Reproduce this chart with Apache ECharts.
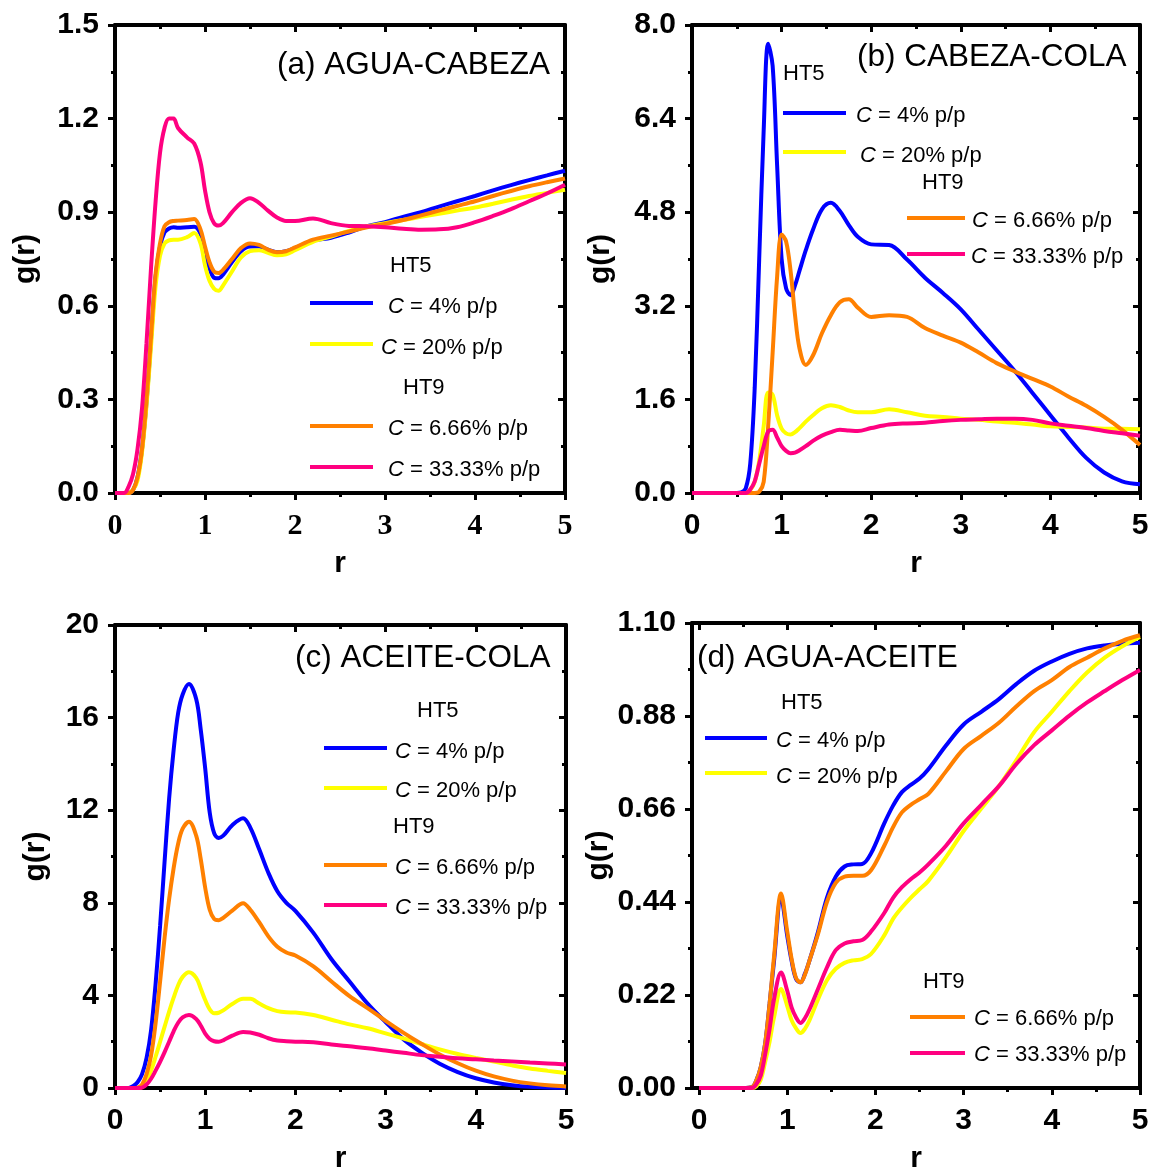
<!DOCTYPE html>
<html><head><meta charset="utf-8">
<script src="https://cdn.jsdelivr.net/npm/echarts@6/dist/echarts.min.js"></script>
<style>html,body{margin:0;padding:0;background:#fff}#c{width:1153px;height:1175px}</style>
</head><body><div id="c"></div>
<script>
// ---------- DATA ----------
const X_TICKS = [0, 1, 2, 3, 4, 5];
const X_MINOR = [0.5, 1.5, 2.5, 3.5, 4.5];
const COLORS = ['#0000ff', '#ffff00', '#ff8000', '#ff0080'];
const LEGEND_LABELS = ['4%', '20%', '6.66%', '33.33%'];

// (a) AGUA-CABEZA
const R_A = [0,0.1,0.15,0.2,0.25,0.3,0.35,0.4,0.45,0.5,0.55,0.6,0.65,0.7,0.8,0.88,0.95,1.0,1.05,1.1,1.15,1.2,1.3,1.4,1.5,1.6,1.7,1.8,1.9,2.0,2.2,2.4,2.6,2.8,3.0,3.2,3.4,3.6,3.8,4.0,4.2,4.4,4.6,4.8,5.0];
const A_BLUE = [0,0,0,0.01,0.05,0.14,0.29,0.49,0.69,0.79,0.835,0.848,0.852,0.85,0.852,0.853,0.83,0.77,0.72,0.69,0.688,0.7,0.74,0.775,0.79,0.79,0.78,0.772,0.775,0.785,0.808,0.818,0.835,0.855,0.868,0.885,0.9,0.918,0.935,0.952,0.97,0.987,1.003,1.018,1.033];
const A_YELLOW = [0,0,0,0.01,0.04,0.13,0.28,0.47,0.66,0.76,0.8,0.81,0.812,0.812,0.82,0.833,0.8,0.73,0.68,0.655,0.648,0.665,0.71,0.755,0.775,0.778,0.77,0.762,0.765,0.778,0.805,0.822,0.84,0.855,0.865,0.875,0.885,0.895,0.905,0.915,0.927,0.94,0.952,0.962,0.972];
const A_ORANGE = [0,0,0,0.01,0.05,0.14,0.3,0.5,0.7,0.8,0.855,0.868,0.872,0.873,0.875,0.878,0.845,0.79,0.74,0.71,0.705,0.715,0.75,0.785,0.8,0.795,0.78,0.772,0.775,0.787,0.812,0.825,0.838,0.852,0.862,0.875,0.89,0.905,0.92,0.935,0.952,0.968,0.983,0.996,1.008];
const A_PINK = [0,0,0.02,0.06,0.14,0.27,0.48,0.72,0.93,1.09,1.17,1.2,1.2,1.17,1.14,1.12,1.06,0.97,0.9,0.865,0.857,0.865,0.9,0.93,0.945,0.93,0.905,0.883,0.872,0.872,0.88,0.865,0.856,0.855,0.852,0.847,0.844,0.845,0.852,0.868,0.888,0.91,0.935,0.96,0.988];

// (b) CABEZA-COLA
const R_B = [0,0.5,0.55,0.6,0.65,0.7,0.75,0.8,0.85,0.9,0.95,1.0,1.05,1.1,1.15,1.2,1.27,1.35,1.45,1.55,1.65,1.75,1.85,2.0,2.2,2.4,2.6,2.8,3.0,3.2,3.4,3.6,3.8,4.0,4.2,4.4,4.6,4.8,5.0];
const B_BLUE = [0,0,0.01,0.08,0.5,1.8,4.0,6.2,7.68,7.3,5.6,4.0,3.5,3.38,3.55,3.8,4.15,4.5,4.85,4.96,4.82,4.58,4.38,4.25,4.24,3.99,3.68,3.42,3.14,2.79,2.44,2.09,1.71,1.33,0.95,0.6,0.35,0.2,0.15];
const B_YELLOW = [0,0,0,0,0.05,0.19,0.55,1.14,1.72,1.68,1.33,1.1,1.02,1.0,1.04,1.11,1.22,1.33,1.45,1.5,1.47,1.41,1.38,1.38,1.43,1.38,1.32,1.3,1.27,1.25,1.22,1.2,1.17,1.14,1.13,1.12,1.1,1.1,1.09];
const B_ORANGE = [0,0,0,0,0,0,0.02,0.19,1.14,2.4,3.7,4.42,4.3,3.8,3.04,2.47,2.19,2.35,2.73,3.04,3.26,3.31,3.17,3.01,3.04,3.01,2.82,2.69,2.57,2.4,2.22,2.08,1.95,1.82,1.65,1.49,1.3,1.08,0.82];
const B_PINK = [0,0,0,0,0.06,0.2,0.5,0.8,1.05,1.08,0.95,0.8,0.72,0.68,0.69,0.73,0.8,0.89,0.98,1.04,1.08,1.07,1.06,1.11,1.17,1.19,1.2,1.23,1.25,1.26,1.27,1.27,1.25,1.19,1.15,1.11,1.06,1.02,0.98];

// (c) ACEITE-COLA
const R_C = [0,0.15,0.2,0.25,0.3,0.35,0.4,0.45,0.5,0.55,0.6,0.65,0.7,0.75,0.82,0.9,0.95,1.0,1.05,1.1,1.15,1.2,1.3,1.42,1.5,1.6,1.7,1.8,1.9,2.0,2.2,2.4,2.6,2.8,3.0,3.2,3.4,3.6,3.8,4.0,4.2,4.4,4.6,4.8,5.0];
const C_BLUE = [0,0,0.08,0.25,0.6,1.3,2.5,4.5,7.0,9.8,12.5,14.6,16.2,17.0,17.45,16.8,15.5,13.8,11.9,11.0,10.8,10.9,11.35,11.65,11.25,10.3,9.3,8.5,8.0,7.65,6.7,5.56,4.6,3.65,2.85,2.1,1.53,1.05,0.69,0.42,0.24,0.12,0.05,0.02,0.01];
const C_YELLOW = [0,0,0,0,0.05,0.3,0.75,1.35,2.0,2.65,3.3,3.9,4.44,4.8,5.0,4.76,4.3,3.8,3.4,3.23,3.25,3.35,3.63,3.85,3.85,3.65,3.45,3.32,3.27,3.26,3.15,2.95,2.75,2.58,2.36,2.14,1.9,1.67,1.47,1.3,1.14,0.98,0.84,0.74,0.65];
const C_ORANGE = [0,0,0,0.02,0.15,0.6,1.4,2.8,4.6,6.5,8.15,9.5,10.55,11.2,11.5,10.9,9.9,8.65,7.7,7.3,7.25,7.35,7.66,7.98,7.7,7.15,6.55,6.1,5.85,5.72,5.25,4.6,3.97,3.45,2.9,2.38,1.9,1.45,1.07,0.75,0.5,0.32,0.2,0.12,0.07];
const C_PINK = [0,0,0,0,0.02,0.15,0.4,0.75,1.13,1.55,2.0,2.45,2.82,3.05,3.15,2.98,2.7,2.35,2.12,2.02,2.0,2.06,2.26,2.42,2.4,2.3,2.15,2.05,2.02,2.0,1.98,1.88,1.8,1.72,1.62,1.52,1.42,1.35,1.28,1.24,1.19,1.15,1.1,1.06,1.02];

// (d) AGUA-ACEITE
const R_D = [0,0.5,0.6,0.65,0.7,0.75,0.8,0.85,0.93,1.0,1.05,1.1,1.15,1.2,1.25,1.35,1.45,1.55,1.65,1.75,1.85,1.95,2.1,2.2,2.3,2.4,2.5,2.6,2.8,3.0,3.2,3.4,3.6,3.8,4.0,4.2,4.4,4.6,4.8,5.0];
const D_BLUE = [0,0,0.002,0.018,0.05,0.106,0.2,0.3,0.45,0.36,0.3,0.258,0.25,0.27,0.3,0.37,0.45,0.5,0.524,0.529,0.53,0.555,0.626,0.668,0.7,0.717,0.732,0.754,0.81,0.86,0.89,0.92,0.956,0.987,1.009,1.027,1.04,1.047,1.051,1.053];
const D_YELLOW = [0,0,0,0.004,0.02,0.062,0.11,0.167,0.234,0.194,0.16,0.141,0.13,0.14,0.159,0.21,0.255,0.282,0.296,0.302,0.305,0.317,0.361,0.4,0.427,0.45,0.47,0.49,0.546,0.608,0.661,0.714,0.776,0.842,0.89,0.939,0.983,1.018,1.045,1.067];
const D_ORANGE = [0,0,0.002,0.018,0.05,0.106,0.2,0.31,0.46,0.37,0.305,0.26,0.25,0.268,0.3,0.365,0.44,0.485,0.5,0.502,0.502,0.515,0.573,0.617,0.652,0.67,0.683,0.696,0.749,0.802,0.833,0.864,0.903,0.939,0.965,0.996,1.018,1.04,1.058,1.071];
const D_PINK = [0,0,0,0.009,0.03,0.08,0.14,0.21,0.273,0.23,0.19,0.167,0.154,0.165,0.185,0.235,0.285,0.326,0.342,0.347,0.35,0.37,0.414,0.45,0.475,0.494,0.51,0.529,0.573,0.626,0.67,0.714,0.767,0.811,0.846,0.881,0.912,0.939,0.965,0.989];

const Y_A = {min:0, max:1.5, interval:0.3, dec:1};
const Y_B = {min:0, max:8, interval:1.6, dec:1};
const Y_C = {min:0, max:20, interval:4, dec:0};
const Y_D = {min:0, max:1.1, interval:0.22, dec:2};

// ---------- LAYOUT ----------
const SANS = 'Liberation Sans, Arial, sans-serif';
const SERIF = 'Liberation Serif, Times New Roman, serif';
const panels = [
  {grid:{left:115, top:25, width:450, height:468}, y:Y_A, r:R_A, vals:[A_BLUE,A_YELLOW,A_ORANGE,A_PINK], xmin:0, xFont:SERIF, nameGap:74},
  {grid:{left:692, top:25, width:448, height:468}, y:Y_B, r:R_B, vals:[B_BLUE,B_YELLOW,B_ORANGE,B_PINK], xmin:0, xFont:SANS, nameGap:76},
  {grid:{left:115, top:625, width:451, height:463}, y:Y_C, r:R_C, vals:[C_BLUE,C_YELLOW,C_ORANGE,C_PINK], xmin:0, xFont:SANS, nameGap:64},
  {grid:{left:692, top:623, width:448, height:468}, y:Y_D, r:R_D, vals:[D_BLUE,D_YELLOW,D_ORANGE,D_PINK], xmin:-0.08, xFont:SANS, nameGap:77}
];

const grids = [], xAxes = [], yAxes = [], series = [];
const LINE = {show:true, onZero:false, lineStyle:{color:'#000', width:4}};
const TICK_OUT = {show:true, inside:false, length:7, lineStyle:{color:'#000', width:3}};
const TICK_IN = {show:true, inside:true, length:7, lineStyle:{color:'#000', width:3}};
const MINOR_OUT = {show:true, splitNumber:2, length:4, lineStyle:{color:'#000', width:3}};
const labelStyle = (font) => ({fontSize:30, fontWeight:'bold', fontFamily:font, color:'#000'});

panels.forEach((p, gi) => {
  grids.push(Object.assign({containLabel:false}, p.grid));
  const xi = xAxes.length;
  const isStd = p.xmin === 0;
  const xb = {gridIndex:gi, type:'value', position:'bottom', min:p.xmin, max:5,
    axisLine:LINE, splitLine:{show:false},
    name:'r', nameLocation:'middle', nameGap:56,
    nameTextStyle:{fontSize:30, fontWeight:'bold', fontFamily:SANS, color:'#000'},
    axisLabel:Object.assign({margin:18}, labelStyle(p.xFont))};
  const xt = {gridIndex:gi, type:'value', position:'top', min:p.xmin, max:5,
    axisLine:LINE, splitLine:{show:false}, axisLabel:{show:false}};
  if (isStd) {
    xb.interval = 1; xb.axisTick = TICK_OUT; xb.minorTick = MINOR_OUT;
    xt.interval = 1; xt.axisTick = TICK_IN; xt.minorTick = Object.assign({}, MINOR_OUT);
  } else {
    xb.axisTick = Object.assign({customValues:X_TICKS}, TICK_OUT);
    xb.axisLabel.customValues = X_TICKS;
    xt.axisTick = Object.assign({customValues:X_TICKS}, TICK_IN);
  }
  xAxes.push(xb, xt);
  if (!isStd) {
    xAxes.push({gridIndex:gi, type:'value', position:'bottom', min:p.xmin, max:5, axisLine:{show:false, onZero:false},
      splitLine:{show:false}, axisLabel:{show:false},
      axisTick:{show:true, inside:false, length:4, customValues:X_MINOR, lineStyle:{color:'#000', width:3}}});
    xAxes.push({gridIndex:gi, type:'value', position:'top', min:p.xmin, max:5, axisLine:{show:false, onZero:false},
      splitLine:{show:false}, axisLabel:{show:false},
      axisTick:{show:true, inside:true, length:4, customValues:X_MINOR, lineStyle:{color:'#000', width:3}}});
  }
  const yi = yAxes.length;
  yAxes.push({gridIndex:gi, type:'value', position:'left', min:p.y.min, max:p.y.max, interval:p.y.interval,
    axisLine:LINE, splitLine:{show:false}, axisTick:TICK_OUT, minorTick:MINOR_OUT,
    name:'g(r)', nameLocation:'middle', nameGap:p.nameGap, nameRotate:90,
    nameTextStyle:{fontSize:30, fontWeight:'bold', fontFamily:SANS, color:'#000'},
    axisLabel:Object.assign({margin:16, formatter:(v)=>v.toFixed(p.y.dec)}, labelStyle(SANS))});
  yAxes.push({gridIndex:gi, type:'value', position:'right', min:p.y.min, max:p.y.max, interval:p.y.interval,
    axisLine:LINE, splitLine:{show:false}, axisTick:TICK_IN, minorTick:MINOR_OUT, axisLabel:{show:false}});
  p.vals.forEach((vals, si) => {
    series.push({type:'line', xAxisIndex:xi, yAxisIndex:yi, showSymbol:false, smooth:0.35,
      data:p.r.map((r, k) => [r, vals[k]]), lineStyle:{color:COLORS[si], width:4}, itemStyle:{color:COLORS[si]},
      z:2+si, silent:true, animation:false});
  });
});

// ---------- TITLES & LEGENDS (graphic) ----------
const graphics = [];
function title(t, x, y){ graphics.push({type:'text', x, y, style:{text:t, fontSize:31.5, fontFamily:SANS, fill:'#000', verticalAlign:'middle', align:'left'}}); }
function head(t, x, y){ graphics.push({type:'text', x, y, style:{text:t, fontSize:22, fontFamily:SANS, fill:'#000', verticalAlign:'middle', align:'left'}}); }
function item(si, x1, x2, ly, tx, ty){
  graphics.push({type:'line', shape:{x1, y1:ly, x2, y2:ly}, style:{stroke:COLORS[si], lineWidth:4}});
  graphics.push({type:'text', x:tx, y:ty, style:{text:'{i|C} = ' + LEGEND_LABELS[si] + ' p/p',
    fontSize:22, fontFamily:SANS, fill:'#000', verticalAlign:'middle', align:'left',
    rich:{i:{fontStyle:'italic', fontSize:22, fontFamily:SANS, fill:'#000'}}}});
}
// (a)
title('(a) AGUA-CABEZA', 277, 65);
head('HT5', 390, 266);
item(0, 310, 373, 303, 388, 307);
item(1, 310, 373, 344, 381, 348);
head('HT9', 403, 388);
item(2, 310, 373, 426, 388, 429);
item(3, 310, 373, 467, 388, 470);
// (b)
title('(b) CABEZA-COLA', 857, 57);
head('HT5', 783, 74);
item(0, 783, 846, 113, 856, 116);
item(1, 783, 846, 152, 860, 156);
head('HT9', 922, 183);
item(2, 907, 965, 218, 972, 221);
item(3, 907, 965, 254, 971, 257);
// (c)
title('(c) ACEITE-COLA', 295, 658);
head('HT5', 417, 711);
item(0, 324, 387, 748, 395, 752);
item(1, 324, 387, 788, 395, 791);
head('HT9', 393, 827);
item(2, 324, 387, 865, 395, 868);
item(3, 324, 387, 905, 395, 908);
// (d)
title('(d) AGUA-ACEITE', 697, 658);
head('HT5', 781, 703);
item(0, 705, 767, 738, 776, 741);
item(1, 705, 767, 773, 776, 777);
head('HT9', 923, 982);
item(2, 910, 965, 1017, 974, 1019);
item(3, 910, 965, 1053, 974, 1055);

const chart = echarts.init(document.getElementById('c'), null, {renderer:'canvas'});
chart.setOption({
  animation:false,
  backgroundColor:'#fff',
  grid:grids, xAxis:xAxes, yAxis:yAxes, series:series,
  graphic:graphics
});
</script></body></html>
